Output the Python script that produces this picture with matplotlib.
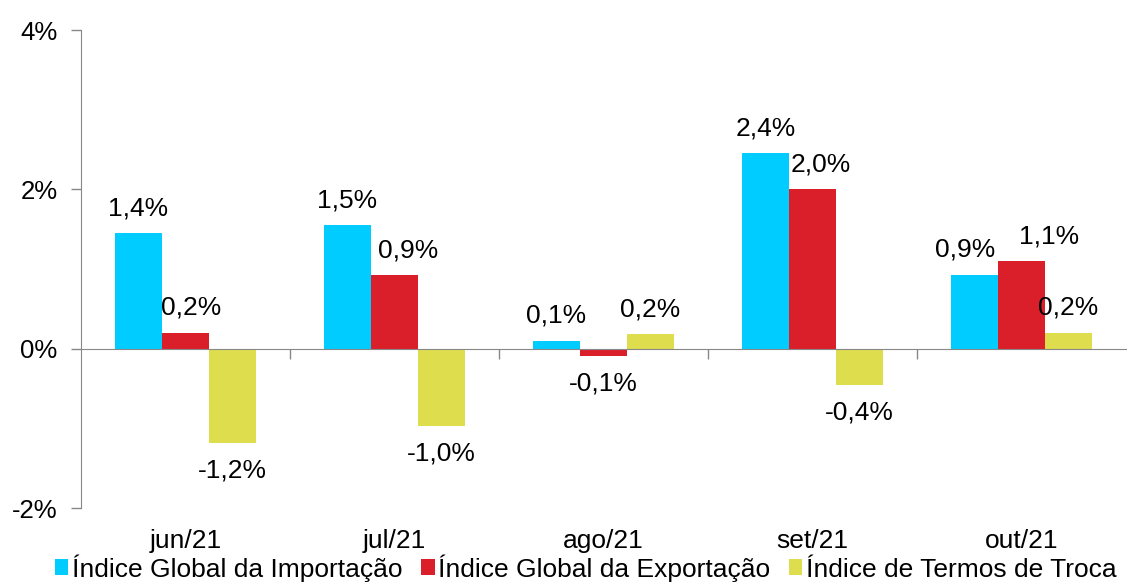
import matplotlib
matplotlib.use("Agg")
import matplotlib.pyplot as plt
from matplotlib.patches import Patch
import numpy as np

plt.rcParams['font.family'] = ['Liberation Sans', 'DejaVu Sans']

categories = ["jun/21", "jul/21", "ago/21", "set/21", "out/21"]
series_names = ["Índice Global da Importação", "Índice Global da Exportação", "Índice de Termos de Troca"]
importacao = [1.45, 1.55, 0.10, 2.45, 0.93]
exportacao = [0.20, 0.92, -0.09, 2.00, 1.10]
termos = [-1.18, -0.97, 0.18, -0.45, 0.20]
lbl_import = ["1,4%", "1,5%", "0,1%", "2,4%", "0,9%"]
lbl_export = ["0,2%", "0,9%", "-0,1%", "2,0%", "1,1%"]
lbl_termos = ["-1,2%", "-1,0%", "0,2%", "-0,4%", "0,2%"]
yticks = [-2, 0, 2, 4]
ytick_labels = ["-2%", "0%", "2%", "4%"]

colors = ["#00CCFF", "#DA1F2A", "#DDDD4D"]
# horizontal label nudges (points) to avoid overlaps, keyed by (series, category)
nudges = {(1, 0): 4, (1, 1): 10, (1, 3): 6, (0, 4): -7, (1, 4): 20}

fig = plt.figure(figsize=(11.27, 5.82), dpi=100)
ax = fig.add_axes([81/1127, 1-508/582, 1 - 81/1127 - 0.001, (508-30)/582])

x = np.arange(len(categories))
w = 0.225
series = [importacao, exportacao, termos]
labels = [lbl_import, lbl_export, lbl_termos]
for k, (vals, lbls, c) in enumerate(zip(series, labels, colors)):
    pos = x + (k - 1) * w
    bars = ax.bar(pos, vals, width=w, color=c, zorder=2)
    for i, (b, v, t) in enumerate(zip(bars, vals, lbls)):
        cx = b.get_x() + b.get_width() / 2
        off = 18 if v >= 0 else -20
        ax.annotate(t, (cx, v), xytext=(nudges.get((k, i), 0), off), textcoords="offset points",
                    ha="center", va="center", fontsize=19, color="black")

ax.set_xlim(-0.5, len(categories) - 0.5)
ax.set_ylim(-2, 4)
ax.set_yticks(yticks)
ax.set_yticklabels(ytick_labels, fontsize=18.5)
ax.tick_params(axis='y', length=7, width=1, color="#888888", pad=10, direction='out')

for s in ["top", "right"]:
    ax.spines[s].set_visible(False)
ax.spines["left"].set_color("#888888")
ax.spines["bottom"].set_color("#888888")
ax.spines["bottom"].set_position(("data", 0))
ax.spines["bottom"].set_zorder(3)

ax.set_xticks(np.arange(len(categories) - 1) + 0.5)
ax.set_xticklabels([])
ax.tick_params(axis='x', length=7, width=1, color="#888888", direction='out')

trans = matplotlib.transforms.blended_transform_factory(ax.transData, ax.transAxes)
for i, c in enumerate(categories):
    ax.text(i, -0.068, c, transform=trans, ha="center", va="center", fontsize=19)

handles = [Patch(facecolor=c, edgecolor='none') for c in colors]
fig.legend(handles, series_names, loc="center", bbox_to_anchor=(0.52, 1 - 568/582),
           ncol=3, frameon=False, fontsize=19, handlelength=0.5, handleheight=0.55,
           handletextpad=0.15, columnspacing=0.7, borderaxespad=0)

fig.savefig("out.png", dpi=100)
